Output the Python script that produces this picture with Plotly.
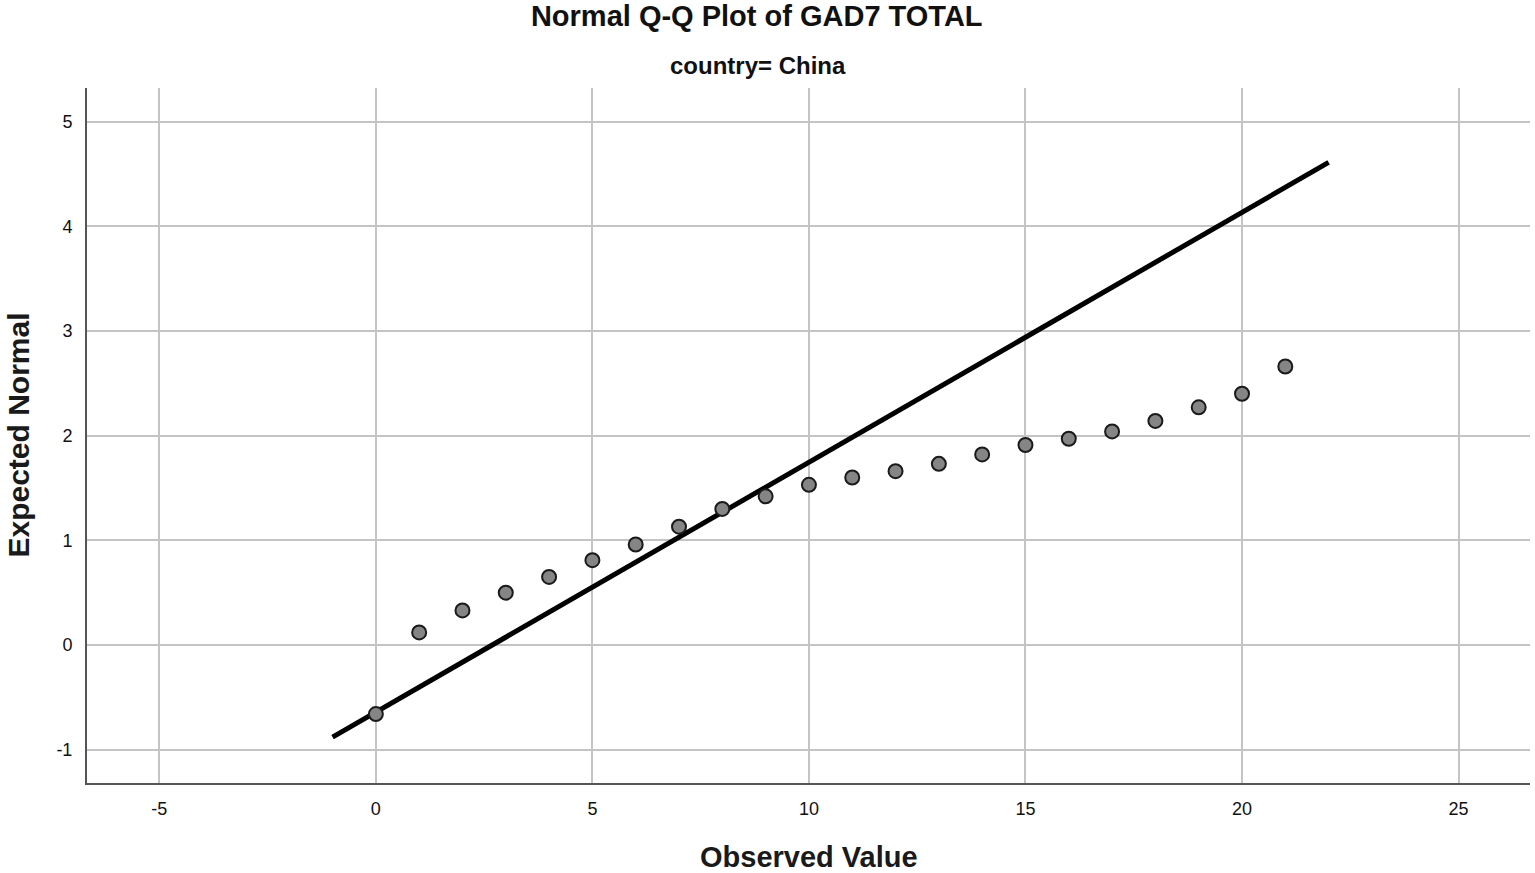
import plotly.graph_objects as go

# observed GAD7 totals and their expected normal values
observed = [0, 1, 2, 3, 4, 5, 6, 7, 8, 9, 10, 11, 12, 13, 14, 15, 16, 17, 18, 19, 20, 21]
expected = [-0.66, 0.12, 0.33, 0.50, 0.65, 0.81, 0.96, 1.13, 1.30, 1.42, 1.53, 1.60,
            1.66, 1.73, 1.82, 1.91, 1.97, 2.04, 2.14, 2.27, 2.40, 2.66]

# reference line endpoints
line_x = [-1, 22]
line_y = [-0.88, 4.61]

x_ticks = [-5, 0, 5, 10, 15, 20, 25]
x_labels = ["-5", "0", "5", "10", "15", "20", "25"]
y_ticks = [-1, 0, 1, 2, 3, 4, 5]
y_labels = ["-1", "0", "1", "2", "3", "4", "5"]

font = "Liberation Sans, Arial, sans-serif"

fig = go.Figure()
fig.add_trace(go.Scatter(
    x=line_x, y=line_y, mode="lines",
    line=dict(color="black", width=5), hoverinfo="skip", showlegend=False,
))
fig.add_trace(go.Scatter(
    x=observed, y=expected, mode="markers",
    marker=dict(size=14, color="#858585", line=dict(color="#1a1a1a", width=2)),
    showlegend=False,
))

fig.update_layout(
    width=1535, height=873,
    margin=dict(l=87, r=5, t=88, b=90),
    plot_bgcolor="white", paper_bgcolor="white",
    font=dict(family=font, color="black"),
    title=dict(text="<b>Normal Q-Q Plot of GAD7 TOTAL</b>", x=0.493, xanchor="center",
               y=0.982, yanchor="middle", xref="container", yref="container",
               font=dict(size=29, color="#111")),
    annotations=[
        dict(text="<b>country= China</b>", xref="paper", yref="paper",
             x=0.465, y=1.032, xanchor="center", yanchor="middle",
             showarrow=False, font=dict(size=24, color="#111")),
        dict(text="<b>Observed Value</b>", xref="paper", yref="paper",
             x=0.5, y=-0.106, xanchor="center", yanchor="middle",
             showarrow=False, font=dict(size=29, color="#1a1a1a")),
        dict(text="<b>Expected Normal</b>", xref="paper", yref="paper",
             x=-0.0478, y=0.5, xanchor="center", yanchor="middle", textangle=-90,
             showarrow=False, font=dict(size=30, color="#1a1a1a")),
    ],
)
fig.update_xaxes(
    range=[-6.67, 26.65], tickvals=x_ticks, ticktext=x_labels, ticks="",
    ticklabelstandoff=8,
    showgrid=True, gridcolor="#c4c4c4", gridwidth=2, zeroline=False,
    showline=True, linecolor="#555", linewidth=2,
    tickfont=dict(size=18, color="#111"),
)
fig.update_yaxes(
    range=[-1.318, 5.32], tickvals=y_ticks, ticktext=y_labels, ticks="",
    ticklabelstandoff=9,
    showgrid=True, gridcolor="#c4c4c4", gridwidth=2, zeroline=False,
    showline=True, linecolor="#555", linewidth=2,
    tickfont=dict(size=18, color="#111"),
)

fig.write_html("out.html", config={"displayModeBar": False},
               post_script="document.body.style.margin='0';")
